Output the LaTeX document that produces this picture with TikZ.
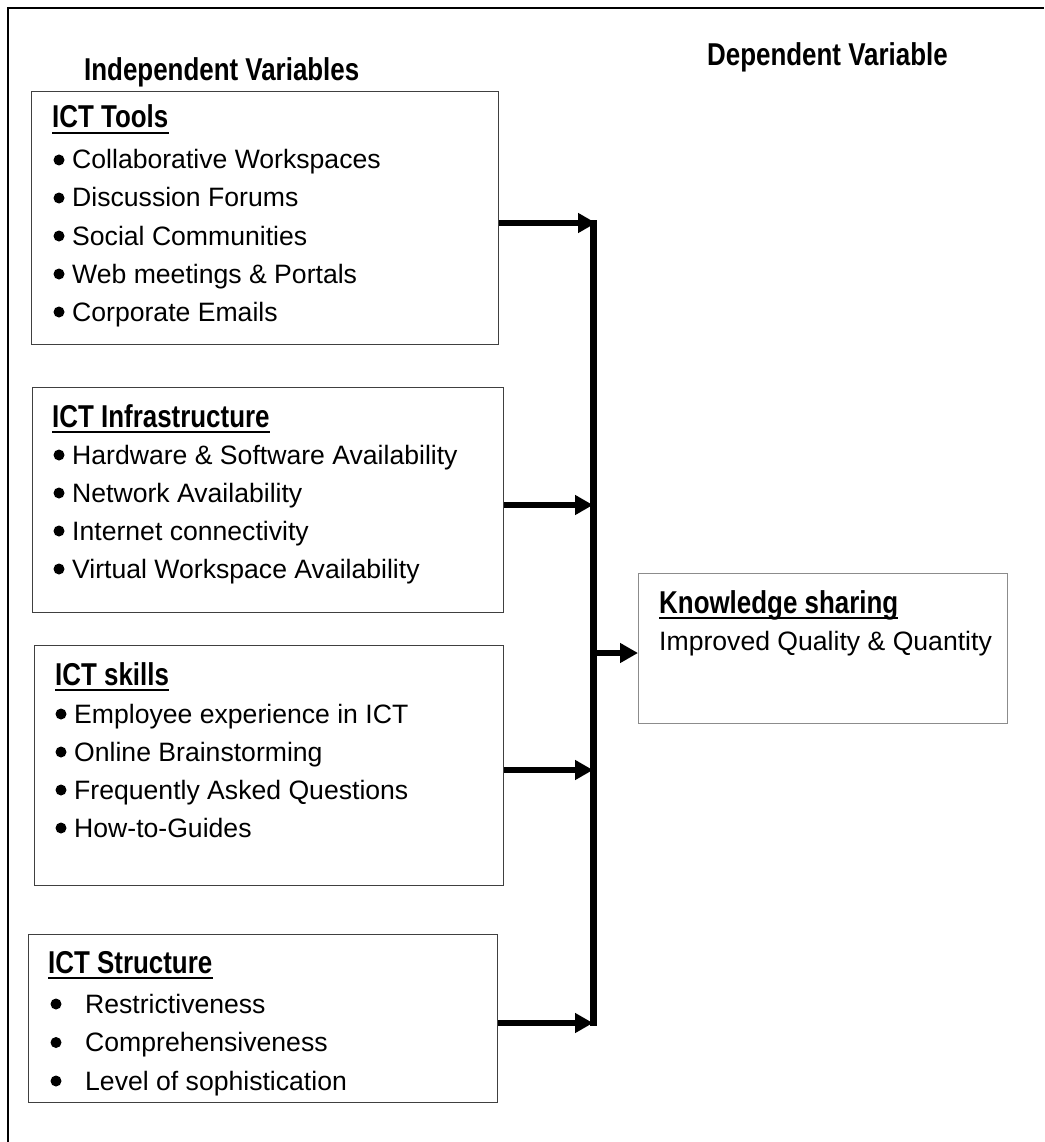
\documentclass[tikz,border=0pt]{standalone}
\usepackage{fontspec}
\setmainfont{Liberation Sans}
\newfontfamily\headfont{Liberation Sans}[FakeStretch=0.82]
\usetikzlibrary{arrows.meta}

\tikzset{
  box/.style={draw=black!75, line width=1.4pt, anchor=north west, inner sep=0pt},
  head/.style={anchor=base west, inner sep=0pt, font=\headfont\bfseries\fontsize{31.6}{38}\selectfont},
  item/.style={anchor=base west, inner sep=0pt, font=\fontsize{26.6}{38}\selectfont},
  dot/.style={circle, fill, inner sep=0pt, minimum size=11pt},
  uline/.style={line width=2.6pt},
  arr/.style={line width=5.5pt, -{Triangle[length=18pt,width=19pt]}},
}

\begin{document}
\begin{tikzpicture}[x=1pt, y=-1pt]
	\useasboundingbox (0,0) rectangle (1044,1142);
	%frame
	\draw[line width=2pt] (8,1142) -- (8,8) -- (1044,8);
	
	\node[head] (indep) at (84,81) {Independent Variables};
	\node[head] (dep) at (707,66) {Dependent Variable};
	
	%ICT tools
	\node[box, minimum width=467pt, minimum height=253pt] (tools) at (31,91) {};
	\node[head] (toolshead) at (52,128) {ICT Tools};
	\foreach \t [count=\i] in {Collaborative Workspaces, Discussion Forums, Social Communities, Web meetings \& Portals, Corporate Emails}{
		\node[dot] (toolsdot\i) at (59, 122+38*\i) {};
		\node[item] (toolsitem\i) at (72, 131+38*\i) {\t};
	}
	
	%ICT infrastructure
	\node[box, minimum width=471pt, minimum height=225pt] (infra) at (32,387) {};
	\node[head] (infrahead) at (52,427) {ICT Infrastructure};
	\foreach \t [count=\i] in {Hardware \& Software Availability, Network Availability, Internet connectivity, Virtual Workspace Availability}{
		\node[dot] (infradot\i) at (59, 417+38*\i) {};
		\node[item] (infraitem\i) at (72, 426+38*\i) {\t};
	}
	
	%ICT skills
	\node[box, minimum width=469pt, minimum height=240pt] (skills) at (34,645) {};
	\node[head] (skillshead) at (55,685) {ICT skills};
	\foreach \t [count=\i] in {Employee experience in ICT, Online Brainstorming, Frequently Asked Questions, How-to-Guides}{
		\node[dot] (skillsdot\i) at (61, 676+38*\i) {};
		\node[item] (skillsitem\i) at (74, 685+38*\i) {\t};
	}
	
	%ICT structure
	\node[box, minimum width=469pt, minimum height=168pt] (struct) at (28,934) {};
	\node[head] (structhead) at (48,973) {ICT Structure};
	\foreach \t [count=\i] in {Restrictiveness, Comprehensiveness, Level of sophistication}{
		\node[dot] (structdot\i) at (56, 965.5+38.5*\i) {};
		\node[item] (structitem\i) at (85, 974.5+38.5*\i) {\t};
	}
	
	%knowledge sharing
	\node[box, draw=black!45, minimum width=369pt, minimum height=150pt] (ks) at (638,573) {};
	\node[head] (kshead) at (659,613) {Knowledge sharing};
	\node[item] (ksitem) at (659,650) {Improved Quality \& Quantity};
	
	%underlines
	\foreach \n in {toolshead, infrahead, skillshead, structhead, kshead}{
		\draw[uline] ([yshift=-5pt]\n.base west) -- ([yshift=-5pt]\n.base east);
	}
	
	%arrows
	\coordinate (bartop) at (593,220);
	\coordinate (barbot) at (593,1026);
	\draw[line width=7pt] (bartop) -- (barbot);
	\coordinate (j1) at (596,223);
	\coordinate (j2) at (593,505);
	\coordinate (j3) at (593,770);
	\coordinate (j4) at (593,1023);
	\coordinate (j5) at (591,653);
	\draw[arr] (tools.east |- j1) -- (j1);
	\draw[arr] (infra.east |- j2) -- (j2);
	\draw[arr] (skills.east |- j3) -- (j3);
	\draw[arr] (struct.east |- j4) -- (j4);
	\draw[arr] (j5) -- (ks.west |- j5);
\end{tikzpicture}
\end{document}
